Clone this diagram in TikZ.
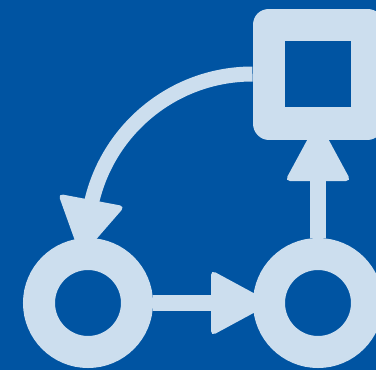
\documentclass[tikz,border=0pt]{standalone}
\usetikzlibrary{calc}
\definecolor{bgblue}{HTML}{0054A2}
\definecolor{fg}{HTML}{CCDEEE}
\begin{document}
\begin{tikzpicture}[x=1pt,y=-1pt,
  ring/.style={circle, draw=fg, line width=32pt, minimum size=98pt, inner sep=0pt},
  box/.style={rectangle, draw=fg, line width=32.7pt, minimum size=98.3pt, inner sep=0pt, line join=round},
  conn/.style={draw=fg, line width=16.5pt},
  curvedconn/.style={draw=fg, line width=15pt},
  head/.style={fill=fg, rounded corners=5pt}]
\fill[bgblue] (0,0) rectangle (376,370);
\useasboundingbox (0,0) rectangle (376,370);
\node[ring] (c1) at (88,303) {};
\node[ring] (c2) at (318,303) {};
\node[box] (sq) at (318,74) {};
% straight connectors
\draw[conn] (c1) -- (c2);
\draw[conn] (c2) -- (sq);
% curved connector
\draw[curvedconn] (sq.west) arc[start angle=90, end angle=180, radius=165pt];
% arrow heads
\fill[head] ($(c2.west)+(-42,-33)$) -- ($(c2.west)+(19,0)$) -- ($(c2.west)+(-42,33)$) -- cycle;
\fill[head] ($(sq.south)+(-33,41.5)$) -- ($(sq.south)+(0,-19.5)$) -- ($(sq.south)+(33,41.5)$) -- cycle;
\fill[head] ($(c1.north)+(-29.9,-44.3)$) -- ($(c1.north)+(-7.2,19)$) -- ($(c1.north)+(36.9,-31.7)$) -- cycle;
\end{tikzpicture}
\end{document}
